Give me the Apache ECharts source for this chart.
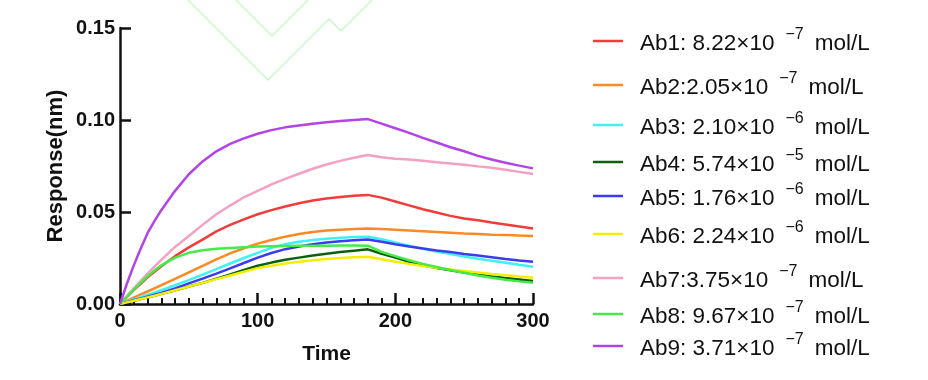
<!DOCTYPE html>
<html>
<head>
<meta charset="utf-8">
<script src="https://cdn.jsdelivr.net/npm/echarts@6/dist/echarts.min.js"></script>
<style>html,body{margin:0;padding:0;background:#fff;}#c{width:928px;height:380px;}</style>
</head>
<body>
<div id="c"></div>
<script>
// Time points (s)
const times = [0,5,10,15,20,25,30,40,50,60,70,80,90,100,110,120,130,140,150,160,170,180,190,200,210,220,230,240,250,260,270,280,290,300];
// Response (nm) per antibody
const ab1 = [0,0.0038,0.0075,0.011,0.0145,0.0175,0.0205,0.026,0.0308,0.035,0.0395,0.043,0.046,0.0488,0.051,0.053,0.0548,0.0562,0.0573,0.0581,0.0588,0.0593,0.0578,0.0557,0.0536,0.0515,0.0497,0.0479,0.0465,0.0455,0.0443,0.0432,0.0421,0.041];
const ab2 = [0,0.0017,0.0035,0.0052,0.0068,0.0085,0.0102,0.0137,0.0172,0.0207,0.0242,0.0275,0.0303,0.0328,0.0348,0.0366,0.038,0.0391,0.0399,0.0404,0.0408,0.041,0.0407,0.0403,0.0399,0.0395,0.0391,0.0387,0.0383,0.038,0.0377,0.0375,0.0372,0.037];
const ab3 = [0,0.0012,0.0025,0.0037,0.005,0.0062,0.0075,0.0102,0.013,0.016,0.019,0.022,0.025,0.0278,0.0305,0.0325,0.0338,0.0348,0.0355,0.036,0.0364,0.0366,0.0352,0.0334,0.0317,0.03,0.0285,0.0271,0.0258,0.0246,0.0235,0.0224,0.0213,0.0203];
const ab4 = [0,0.0009,0.0018,0.0027,0.0036,0.0045,0.0055,0.0075,0.0095,0.0115,0.0138,0.016,0.0185,0.0208,0.0225,0.024,0.0252,0.0263,0.0273,0.0282,0.029,0.0297,0.0273,0.0252,0.0229,0.021,0.0196,0.0183,0.0171,0.016,0.015,0.0141,0.0133,0.0125];
const ab5 = [0,0.001,0.002,0.003,0.004,0.005,0.006,0.0085,0.0112,0.0138,0.0165,0.0194,0.0223,0.0252,0.0277,0.0298,0.0313,0.0325,0.0334,0.0341,0.0346,0.035,0.0338,0.0325,0.0313,0.0302,0.0291,0.0282,0.0272,0.0263,0.0254,0.0245,0.0237,0.023];
const ab6 = [0,0.0009,0.0018,0.0027,0.0036,0.0045,0.0055,0.0075,0.0095,0.0115,0.0135,0.0155,0.0175,0.0195,0.0208,0.022,0.023,0.0238,0.0245,0.025,0.0254,0.0257,0.0243,0.023,0.0218,0.0207,0.0197,0.0188,0.0179,0.0171,0.0163,0.0156,0.0149,0.0143];
const ab7 = [0,0.0043,0.0085,0.0125,0.0165,0.0203,0.024,0.031,0.037,0.043,0.0488,0.0535,0.058,0.0615,0.065,0.068,0.0708,0.0735,0.0758,0.0778,0.0795,0.081,0.0797,0.079,0.0785,0.0778,0.0771,0.0764,0.0757,0.0748,0.074,0.073,0.0718,0.0707];
const ab8 = [0,0.004,0.0078,0.0115,0.015,0.0182,0.021,0.0252,0.0278,0.0292,0.03,0.0305,0.0309,0.0312,0.0314,0.0315,0.0316,0.0317,0.0317,0.0318,0.0318,0.0317,0.0283,0.026,0.0238,0.0218,0.0201,0.0185,0.017,0.0155,0.0143,0.0132,0.0123,0.0115];
const ab9 = [0,0.011,0.021,0.03,0.0385,0.045,0.051,0.0615,0.0705,0.0775,0.083,0.087,0.09,0.0925,0.0945,0.096,0.097,0.098,0.0988,0.0995,0.1,0.1005,0.098,0.0955,0.093,0.0903,0.0878,0.0852,0.083,0.0805,0.0785,0.0768,0.0752,0.0737];

const names = ['Ab1','Ab2','Ab3','Ab4','Ab5','Ab6','Ab7','Ab8','Ab9'];
const labelMain = ['Ab1: 8.22×10','Ab2:2.05×10','Ab3: 2.10×10','Ab4: 5.74×10','Ab5: 1.76×10','Ab6: 2.24×10','Ab7:3.75×10','Ab8: 9.67×10','Ab9: 3.71×10'];
const labelExp = ['−7','−7','−6','−5','−6','−6','−7','−7','−7'];
const unitText = 'mol/L';
const yTickLabels = ['0.00','0.05','0.10','0.15'];
const xTickLabels = ['0','100','200','300'];

const allSeries = [ab1,ab2,ab3,ab4,ab5,ab6,ab7,ab8,ab9];
const colors = ['#f23b3b','#fb8a22','#3ff2f2','#0e600e','#3b3bf0','#f2ee00','#f4a0c2','#45ec45','#b244e6'];
const legendY = [41,85,125,162,196,234,278,314,346];
const FF = '"Liberation Sans", Arial, sans-serif';

const chart = echarts.init(document.getElementById('c'), null, {renderer:'canvas'});

const legends = names.map((n, i) => ({
  data: [n],
  left: 593,
  top: legendY[i] - 14,
  padding: 0,
  icon: 'rect',
  itemWidth: 30,
  itemHeight: 2.5,
  selectedMode: false,
  formatter: () => '{p|}{m|' + labelMain[i] + '}{s|' + labelExp[i] + '}{m|' + unitText + '}',
  textStyle: {
    rich: {
      p: {width: 12, fontSize: 22, verticalAlign: 'bottom'},
      m: {fontFamily: FF, fontSize: 22.5, color: '#111', verticalAlign: 'bottom'},
      s: {fontFamily: FF, fontSize: 16, color: '#111', verticalAlign: 'top', padding: [0,11,12,11]}
    }
  }
}));

const option = {
  backgroundColor: '#fff',
  animation: false,
  grid: {left: 120, right: 395, top: 28, bottom: 76, containLabel: false},
  legend: legends,
  xAxis: {
    type: 'value', min: 0, max: 300, interval: 100,
    name: 'Time', nameLocation: 'middle', nameGap: 40,
    nameTextStyle: {fontFamily: FF, fontWeight: 'bold', fontSize: 21, color: '#111'},
    axisLine: {show: true, onZero: false, lineStyle: {color: '#111', width: 2.5}},
    axisTick: {show: true, inside: true, length: 11, lineStyle: {color: '#111', width: 2.5}},
    minorTick: {show: true, splitNumber: 10, length: 6, lineStyle: {color: '#111', width: 2}},
    splitLine: {show: false},
    axisLabel: {margin: 7, fontFamily: FF, fontWeight: 'bold', fontSize: 20, color: '#111',
      formatter: (v) => xTickLabels[Math.round(v / 100)]}
  },
  yAxis: {
    type: 'value', min: 0, max: 0.15, interval: 0.05,
    name: 'Response(nm)', nameLocation: 'middle', nameGap: 53,
    nameTextStyle: {fontFamily: FF, fontWeight: 'bold', fontSize: 22, color: '#111'},
    axisLine: {show: true, onZero: false, lineStyle: {color: '#111', width: 2.5}},
    axisTick: {show: true, inside: true, length: 11, lineStyle: {color: '#111', width: 2.5}},
    splitLine: {show: false},
    axisLabel: {margin: 5, fontFamily: FF, fontWeight: 'bold', fontSize: 20, color: '#111',
      formatter: (v) => yTickLabels[Math.round(v / 0.05)]}
  },
  graphic: [
    {type: 'polyline', silent: true, z: -10, shape: {points: [[236,0],[272,36],[308,0]]},
     style: {stroke: '#cdf5cd', lineWidth: 1.5, fill: null}},
    {type: 'polyline', silent: true, z: -10, shape: {points: [[188,0],[268,80],[329,19],[341,31],[372,0]]},
     style: {stroke: '#cdf5cd', lineWidth: 1.5, fill: null}}
  ],
  series: names.map((n, i) => ({
    name: n,
    type: 'line',
    showSymbol: false,
    symbol: 'none',
    smooth: false,
    color: colors[i],
    lineStyle: {width: 2.5, color: colors[i]},
    data: times.map((t, j) => [t, allSeries[i][j]])
  }))
};
chart.setOption(option);
</script>
</body>
</html>
